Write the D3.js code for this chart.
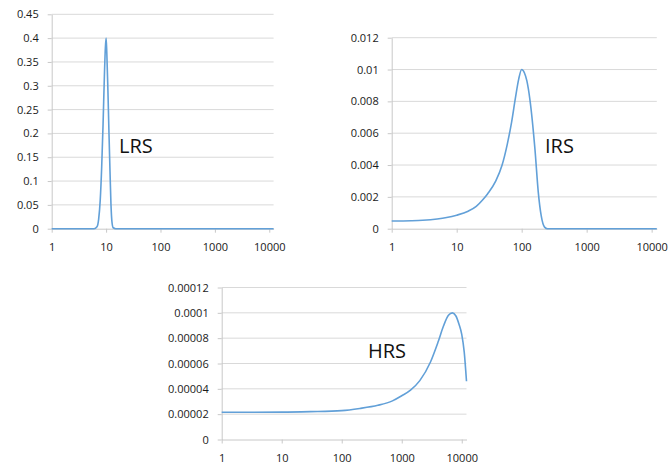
<!DOCTYPE html>
<html lang="en">
<head>
    <meta charset="UTF-8">
    <title>LRS / IRS / HRS</title>
    <script src="https://d3js.org/d3.v7.min.js"></script>
    <style>
        body { margin: 0; background: white; }
        svg { display: block; }
        .axis text { font-family: "Open Sans", sans-serif; font-size: 11px; fill: #1a1a1a; }
        .axis path, .axis line { stroke: #c8c8c8; }
        .grid line { stroke: #d9d9d9; }
        .tag { font-family: "Open Sans", sans-serif; font-size: 20px; fill: #111; }
    </style>
</head>
<body>
<script>
    // Data
    const xTicks = [1, 10, 100, 1000, 10000];

    const lrsX = [1, 2, 4, 6, 6.8, 7.3, 7.8, 8.3, 8.8, 9.3, 9.7, 10, 10.3, 10.8, 11.3, 11.8, 12.3, 12.8, 13.5, 15, 30, 100, 1000, 12000];
    const lrsY = [0, 0, 0, 0, 0.004, 0.02, 0.06, 0.13, 0.22, 0.32, 0.38, 0.40, 0.37, 0.29, 0.2, 0.12, 0.05, 0.015, 0.002, 0, 0, 0, 0, 0];
    const lrsTicks = [0, 0.05, 0.1, 0.15, 0.2, 0.25, 0.3, 0.35, 0.4, 0.45];

    const irsX = [1, 2, 3, 5, 7, 10, 15, 20, 25, 30, 40, 50, 60, 70, 80, 90, 100, 110, 120, 134, 160, 180, 200, 225, 250, 300, 1000, 12000];
    const irsY = [0.00048, 0.0005, 0.00053, 0.00061, 0.0007, 0.00085, 0.0011, 0.0014, 0.0018, 0.0022, 0.0030, 0.0040, 0.0053, 0.0067, 0.0082, 0.0094, 0.0100, 0.0098, 0.0093, 0.0081, 0.0050, 0.0023, 0.0008, 0.0001, 0, 0, 0, 0];
    const irsTicks = [0, 0.002, 0.004, 0.006, 0.008, 0.01, 0.012];

    const hrsX = [1, 10, 30, 100, 200, 400, 700, 1000, 1400, 2000, 3000, 4000, 5000, 6000, 7000, 8000, 9000, 10000, 11000, 12000];
    const hrsY = [0.0000215, 0.0000216, 0.000022, 0.0000228, 0.0000245, 0.000027, 0.0000305, 0.0000345, 0.000039, 0.0000465, 0.000061, 0.0000765, 0.000090, 0.000098, 0.0001, 0.0000975, 0.000091, 0.000083, 0.000069, 0.000046];
    const hrsTicks = [0, 0.00002, 0.00004, 0.00006, 0.00008, 0.0001, 0.00012];

    const width = 669, height = 467;
    const svg = d3.select("body").append("svg")
        .attr("width", width)
        .attr("height", height);

    function panel(p) {
        const x = d3.scaleLog().domain([1, 12000]).range([p.left, p.right]);
        const y = d3.scaleLinear().domain([0, p.ticks[p.ticks.length - 1]]).range([p.bottom, p.top]);
        const g = svg.append("g");

        // gridlines
        g.append("g").attr("class", "grid")
            .selectAll("line")
            .data(p.ticks.slice(1))
            .enter().append("line")
            .attr("x1", p.left).attr("x2", p.right)
            .attr("y1", d => y(d)).attr("y2", d => y(d));

        g.append("g").attr("class", "axis")
            .attr("transform", `translate(${p.left},0)`)
            .call(d3.axisLeft(y).tickValues(p.ticks).tickFormat(d3.format("~g"))
                .tickSize(4).tickSizeOuter(0).tickPadding(9));

        g.append("g").attr("class", "axis")
            .attr("transform", `translate(0,${p.bottom})`)
            .call(d3.axisBottom(x).tickValues(xTicks).tickFormat(d3.format("d"))
                .tickSize(4).tickSizeOuter(0).tickPadding(11));

        const pts = p.xs.map((v, i) => [v, p.ys[i]]);
        g.append("path")
            .datum(pts)
            .attr("fill", "none")
            .attr("stroke", "#62a0d8")
            .attr("stroke-width", 1.6)
            .attr("d", d3.line()
                .x(d => x(d[0]))
                .y(d => y(d[1]))
                .curve(d3.curveMonotoneX));

        g.append("text").attr("class", "tag")
            .attr("x", p.tagX).attr("y", p.tagY)
            .text(p.name);
    }

    panel({ name: "LRS", xs: lrsX, ys: lrsY, ticks: lrsTicks,
            left: 51.7, right: 273.6, top: 14.3, bottom: 228.7, tagX: 119, tagY: 153 });
    panel({ name: "IRS", xs: irsX, ys: irsY, ticks: irsTicks,
            left: 391.7, right: 656.8, top: 37.7, bottom: 228.7, tagX: 545, tagY: 153 });
    panel({ name: "HRS", xs: hrsX, ys: hrsY, ticks: hrsTicks,
            left: 221.7, right: 466.5, top: 287.5, bottom: 439.5, tagX: 368, tagY: 358 });
</script>
</body>
</html>
